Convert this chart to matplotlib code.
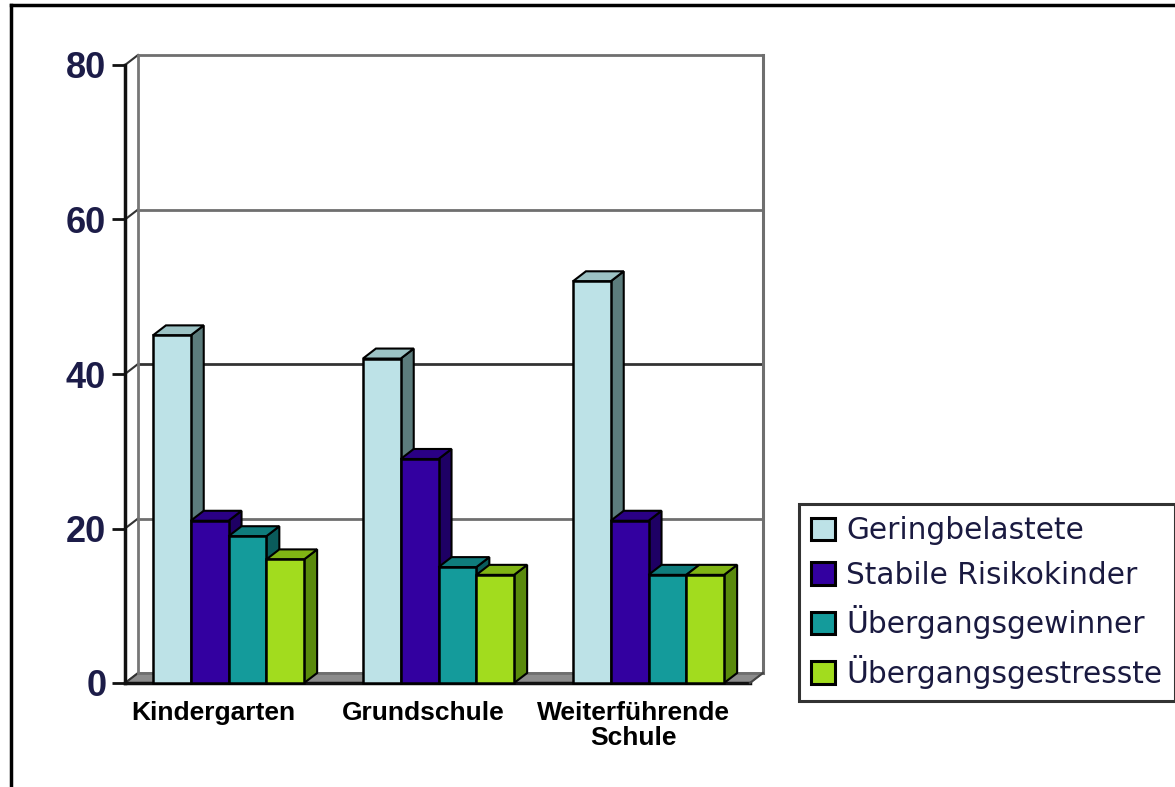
import matplotlib
matplotlib.use("Agg")
import matplotlib.pyplot as plt
from matplotlib.patches import Polygon, Patch
from matplotlib.lines import Line2D

# data
categories = ["Kindergarten", "Grundschule", "Weiterführende\nSchule"]
series = ["Geringbelastete", "Stabile Risikokinder",
          "Übergangsgewinner", "Übergangsgestresste"]
values = [
    [45, 42, 52],   # Geringbelastete
    [21, 29, 21],   # Stabile Risikokinder
    [19, 15, 14],   # Übergangsgewinner
    [16, 14, 14],   # Übergangsgestresste
]
yticks = [0, 20, 40, 60, 80]

# colours: front, top, side
front_cols = ["#bde2e7", "#3300a0", "#149b9b", "#a2dc1e"]
top_cols = ["#9cc2c4", "#2a0085", "#0f7c7c", "#80b414"]
side_cols = ["#5c7c7c", "#1e0064", "#0a5c5c", "#5a8a0c"]

W, H, DPI = 1175, 787, 100
fig = plt.figure(figsize=(W / DPI, H / DPI), dpi=DPI)
fig.patch.set_facecolor("white")

# front plane of the chart in pixels
left_px, right_px, top_px, bottom_px = 125, 755, 65, 683
ax = fig.add_axes([left_px / W, 1 - bottom_px / H,
                   (right_px - left_px) / W, (bottom_px - top_px) / H])
ax.set_xlim(0, 3)
ax.set_ylim(0, 80)
ax.patch.set_alpha(0)

px_x = 3 / (right_px - left_px)
px_y = 80 / (bottom_px - top_px)
dx, dy = 13 * px_x, 10 * px_y
x_end = 2.976

# floor
floor = Polygon([(0, 0), (x_end, 0), (x_end + dx, dy), (dx, dy)],
                closed=True, facecolor="#8c8c8c", edgecolor="#555555",
                lw=1, clip_on=False, zorder=1)
ax.add_patch(floor)

# back wall with gridlines
for v in yticks:
    col = "#333333" if v == 40 else "#6f6f6f"
    ax.plot([dx, x_end + dx], [v + dy, v + dy], color=col, lw=2,
            clip_on=False, zorder=1)
    ax.plot([0, dx], [v, v + dy], color="#333333", lw=1.5,
            clip_on=False, zorder=1)
ax.plot([dx, dx], [dy, 80 + dy], color="#777777", lw=2, clip_on=False, zorder=1)
ax.plot([x_end + dx, x_end + dx], [dy, 80 + dy], color="#6f6f6f", lw=2.2,
        clip_on=False, zorder=1)
ax.plot([0, x_end], [0, 0], color="#111111", lw=2.5, clip_on=False, zorder=2)
ax.plot([x_end, x_end + dx], [0, dy], color="#444444", lw=1.5, clip_on=False, zorder=2)

# bars
bar_w = 0.18
start = 0.133
z = 3
for i in range(len(categories)):
    for j in range(len(series)):
        v = values[j][i]
        x0 = i + start + j * bar_w
        x1 = x0 + bar_w
        side = Polygon([(x1, 0), (x1 + dx, dy), (x1 + dx, v + dy), (x1, v)],
                       closed=True, facecolor=side_cols[j], edgecolor="black",
                       lw=1.5, clip_on=False, zorder=z)
        top = Polygon([(x0, v), (x0 + dx, v + dy), (x1 + dx, v + dy), (x1, v)],
                      closed=True, facecolor=top_cols[j], edgecolor="black",
                      lw=1.5, clip_on=False, zorder=z)
        front = Polygon([(x0, 0), (x1, 0), (x1, v), (x0, v)], closed=True,
                        facecolor=front_cols[j], edgecolor="black", lw=1.8,
                        clip_on=False, zorder=z)
        ax.add_patch(side)
        ax.add_patch(top)
        ax.add_patch(front)
        z += 1

# axes styling
for s in ["top", "right", "bottom"]:
    ax.spines[s].set_visible(False)
ax.spines["left"].set_linewidth(2.5)
ax.spines["left"].set_color("#111111")
ax.set_yticks(yticks)
ax.set_yticklabels([str(t) for t in yticks], fontsize=26, fontweight="bold",
                   color="#1c1c48", family="Liberation Sans")
ax.tick_params(axis="y", direction="out", length=9.5, width=2, pad=4,
               color="#111111")
ax.set_xticks([i + 0.42 for i in range(len(categories))])
ax.set_xticklabels(categories, fontsize=19, fontweight="bold",
                   family="Liberation Sans", linespacing=1.05)
ax.tick_params(axis="x", length=0, pad=13)

# legend
handles = [Patch(facecolor=front_cols[j], edgecolor="black", lw=2.2)
           for j in range(len(series))]
leg = fig.legend(handles, series, loc="upper left",
                 bbox_to_anchor=(799 / W, 1 - 504 / H), frameon=True,
                 fancybox=False, borderaxespad=0, borderpad=0.42,
                 handlelength=0.8, handleheight=0.8, handletextpad=0.38,
                 labelspacing=0.52, prop={"family": "DejaVu Sans", "size": 21.3})
leg.get_frame().set_edgecolor("black")
leg.get_frame().set_linewidth(2.2)
for t in leg.get_texts():
    t.set_color("#1a1a40")

# outer frame of the picture
fig.add_artist(Line2D([11 / W, 11 / W], [0, 1 - 5 / H], color="black", lw=2.5))
fig.add_artist(Line2D([11 / W, 1], [1 - 5 / H, 1 - 5 / H], color="black", lw=2.5))

fig.savefig("out.png", dpi=DPI)
